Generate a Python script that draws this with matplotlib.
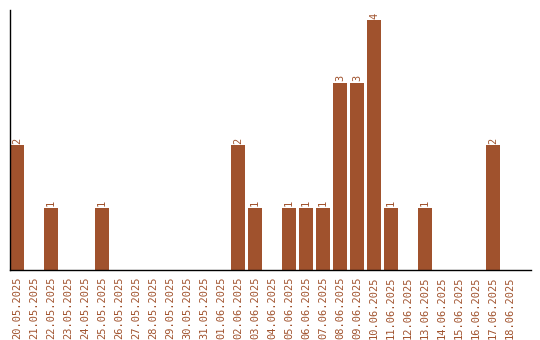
import matplotlib
matplotlib.use("Agg")
import matplotlib.pyplot as plt
import numpy as np

dates = ["20.05.2025", "21.05.2025", "22.05.2025", "23.05.2025", "24.05.2025",
         "25.05.2025", "26.05.2025", "27.05.2025", "28.05.2025", "29.05.2025",
         "30.05.2025", "31.05.2025", "01.06.2025", "02.06.2025", "03.06.2025",
         "04.06.2025", "05.06.2025", "06.06.2025", "07.06.2025", "08.06.2025",
         "09.06.2025", "10.06.2025", "11.06.2025", "12.06.2025", "13.06.2025",
         "14.06.2025", "15.06.2025", "16.06.2025", "17.06.2025", "18.06.2025"]
counts = [2, 0, 1, 0, 0, 1, 0, 0, 0, 0, 0, 0, 0, 2, 1, 0, 1, 1, 1, 3, 3, 4, 1, 0, 1, 0, 0, 0, 2, 0]

color = "#A0522D"
W, H = 540, 340
fig = plt.figure(figsize=(W / 100, H / 100), dpi=100)
ax = fig.add_axes([10 / W, 70 / H, 521 / W, 260 / H])

x = np.arange(len(dates))
bw = 14 / 17
ax.bar(x, counts, width=bw, align="edge", color=color)
for xi, c in zip(x, counts):
    if c > 0:
        ax.text(xi + bw / 2, c + 0.02, str(c), rotation=90, ha="center", va="bottom",
                color=color, fontsize=7.5, family="DejaVu Sans Mono")

ax.set_xlim(0, 521 / 17)
ax.set_ylim(0, 260 / 62.5)
ax.set_xticks(x + bw / 2)
ax.set_xticklabels(dates, rotation=90, color=color, fontsize=7.5, family="DejaVu Sans Mono")
ax.tick_params(axis="x", length=0, pad=5)
ax.set_yticks([])
for s in ["top", "right"]:
    ax.spines[s].set_visible(False)
for s in ["left", "bottom"]:
    ax.spines[s].set_color("black")
    ax.spines[s].set_linewidth(1)

fig.savefig("out.png", dpi=100)
